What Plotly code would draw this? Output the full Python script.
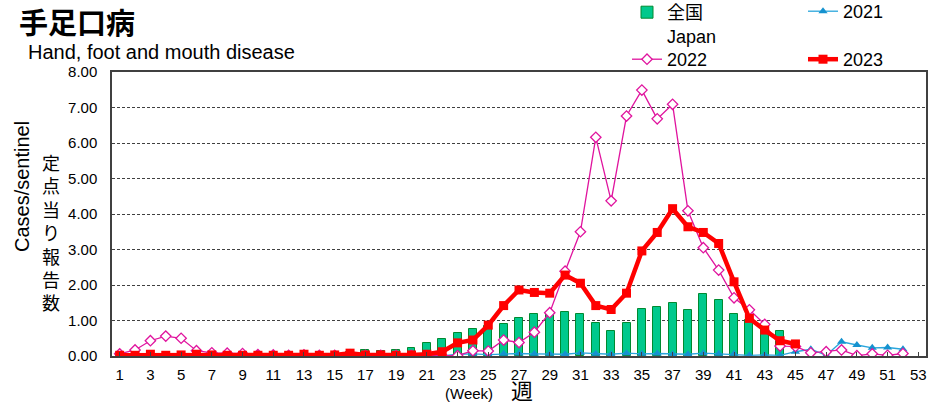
import plotly.graph_objects as go

weeks = list(range(1, 54))

japan = [0.03, 0.03, 0.03, 0.03, 0.03, 0.03, 0.03, 0.03, 0.03, 0.03,
         0.04, 0.04, 0.05, 0.05, 0.06, 0.12, 0.17, 0.15, 0.17, 0.23,
         0.36, 0.47, 0.64, 0.75, 0.85, 0.90, 1.06, 1.19, 1.22, 1.25,
         1.19, 0.92, 0.70, 0.92, 1.33, 1.37, 1.48, 1.31, 1.75, 1.58,
         1.17, 1.02, 0.85, 0.70, None, None, None, None, None, None,
         None, None, None]

y2021 = [0.01, 0.01, 0.01, 0.01, 0.01, 0.0, 0.01, 0.01, 0.01, 0.01,
         0.01, 0.01, 0.0, 0.01, 0.01, 0.0, 0.01, 0.01, 0.01, 0.01,
         0.01, 0.0, 0.05, 0.06, 0.04, 0.06, 0.07, 0.06, 0.06, 0.05,
         0.09, 0.06, 0.05, 0.08, 0.06, 0.07, 0.05, 0.05, 0.08, 0.06,
         0.06, 0.02, 0.03, 0.02, 0.12, 0.19, 0.02, 0.40, 0.31, 0.23,
         0.24, 0.19, None]

y2022 = [0.06, 0.17, 0.43, 0.56, 0.50, 0.15, 0.09, 0.08, 0.07, 0.04,
         0.03, 0.02, 0.03, 0.02, 0.02, 0.03, 0.02, 0.02, 0.02, 0.02,
         0.01, 0.01, 0.01, 0.15, 0.14, 0.45, 0.38, 0.67, 1.22, 2.39,
         3.50, 6.16, 4.37, 6.76, 7.49, 6.68, 7.09, 4.09, 3.05, 2.42,
         1.64, 1.30, 0.89, 0.28, 0.27, 0.09, 0.12, 0.17, 0.01, 0.06,
         0.02, 0.07, None]

y2023 = [0.02, 0.02, 0.05, 0.02, 0.03, 0.05, 0.03, 0.02, 0.02, 0.02,
         0.02, 0.02, 0.05, 0.02, 0.03, 0.08, 0.03, 0.03, 0.02, 0.03,
         0.05, 0.12, 0.37, 0.45, 0.87, 1.42, 1.86, 1.79, 1.77, 2.28,
         2.05, 1.42, 1.31, 1.77, 2.96, 3.48, 4.15, 3.64, 3.48, 3.17,
         2.09, 1.06, 0.73, 0.43, 0.34, None, None, None, None, None,
         None, None, None]

y_ticks = [0, 1, 2, 3, 4, 5, 6, 7, 8]
y_tick_labels = ["%.2f" % v for v in y_ticks]

FONT = "Liberation Sans, Arial, Noto Sans CJK JP, sans-serif"
JP = "Noto Sans CJK JP, sans-serif"

W, H = 940, 407
PW, PH = 814, 284   # plot area: x 112..926, y 72..356


def px(x):
    return (x - 112) / PW


def py(y):
    return (356 - y) / PH


def leg(x_text, y_text):
    # legend box placed so its text starts at x_text and first line is centred on y_text
    return dict(xref="paper", yref="paper",
                x=px(x_text - 40), y=py(y_text - 17),
                xanchor="left", yanchor="top", bgcolor="rgba(0,0,0,0)",
                font=dict(family=FONT, size=18), valign="top")


fig = go.Figure()
fig.add_trace(go.Bar(x=weeks, y=japan, name="全国<br>Japan", width=0.52,
                     marker=dict(color="#00C98C", line=dict(color="#008a30", width=1)),
                     legend="legend", showlegend=True))
fig.add_trace(go.Scatter(x=weeks, y=y2021, name="2021", mode="lines+markers",
                         line=dict(color="#2AA6DC", width=1.3),
                         marker=dict(symbol="triangle-up", size=8, color="#1592CF"),
                         legend="legend2"))
fig.add_trace(go.Scatter(x=weeks, y=y2022, name="2022", mode="lines+markers",
                         line=dict(color="#E0149E", width=1.3),
                         marker=dict(symbol="diamond", size=8, color="white",
                                     line=dict(color="#E0149E", width=1.3)),
                         legend="legend3"))
fig.add_trace(go.Scatter(x=weeks, y=y2023, name="2023", mode="lines+markers",
                         line=dict(color="#FF0000", width=4.5),
                         marker=dict(symbol="square", size=9, color="#FF0000"),
                         legend="legend4"))

fig.update_layout(
    width=W, height=H,
    margin=dict(l=112, r=14, t=72, b=51, autoexpand=False),
    plot_bgcolor="white", paper_bgcolor="white",
    font=dict(family=FONT, size=14, color="black"),
    bargap=0,
    showlegend=True,
    legend=leg(667, 11),
    legend2=leg(843, 10),
    legend3=leg(667, 58),
    legend4=leg(843, 58),
    annotations=[
        dict(text="<b>手足口病</b>", xref="paper", yref="paper", x=px(17), y=py(21),
             xanchor="left", yanchor="middle", showarrow=False,
             font=dict(family=JP, size=29)),
        dict(text="Hand, foot and mouth disease", xref="paper", yref="paper",
             x=px(26), y=py(52), xanchor="left", yanchor="middle",
             showarrow=False, font=dict(family=FONT, size=20)),
        dict(text="Cases/sentinel", xref="paper", yref="paper", x=px(22), y=py(187),
             textangle=-90, xanchor="center", yanchor="middle",
             showarrow=False, font=dict(family=FONT, size=20)),
        dict(text="<br>".join("定点当り報告数"), xref="paper", yref="paper",
             x=px(51), y=py(232), xanchor="center", yanchor="middle",
             showarrow=False, font=dict(family=JP, size=18)),
        dict(text="(Week)", xref="paper", yref="paper", x=px(469), y=py(393),
             xanchor="center", yanchor="middle", showarrow=False,
             font=dict(family=FONT, size=15)),
        dict(text="週", xref="paper", yref="paper", x=px(522), y=py(389),
             xanchor="center", yanchor="middle", showarrow=False,
             font=dict(family=JP, size=22)),
    ],
)
fig.update_xaxes(range=[0.5, 53.5], tickmode="linear", tick0=1, dtick=2,
                 showline=True, linecolor="#404040", linewidth=1.5, mirror=True,
                 ticks="inside", ticklen=4, tickcolor="#404040",
                 showgrid=False, zeroline=False, tickfont=dict(size=15),
                 ticklabelstandoff=4)
fig.update_yaxes(range=[0, 8], tickvals=y_ticks, ticktext=y_tick_labels,
                 showline=True, linecolor="#404040", linewidth=1.5, mirror=True,
                 showgrid=True, gridcolor="#404040", gridwidth=1, griddash="3px,2px",
                 zeroline=False, ticks="", tickfont=dict(size=15),
                 ticklabelstandoff=10)

# drop the browser's default body margin so the figure sits at the page corner
fig.write_html("out.html", config={"displayModeBar": False},
               post_script="document.body.style.margin='0';")
